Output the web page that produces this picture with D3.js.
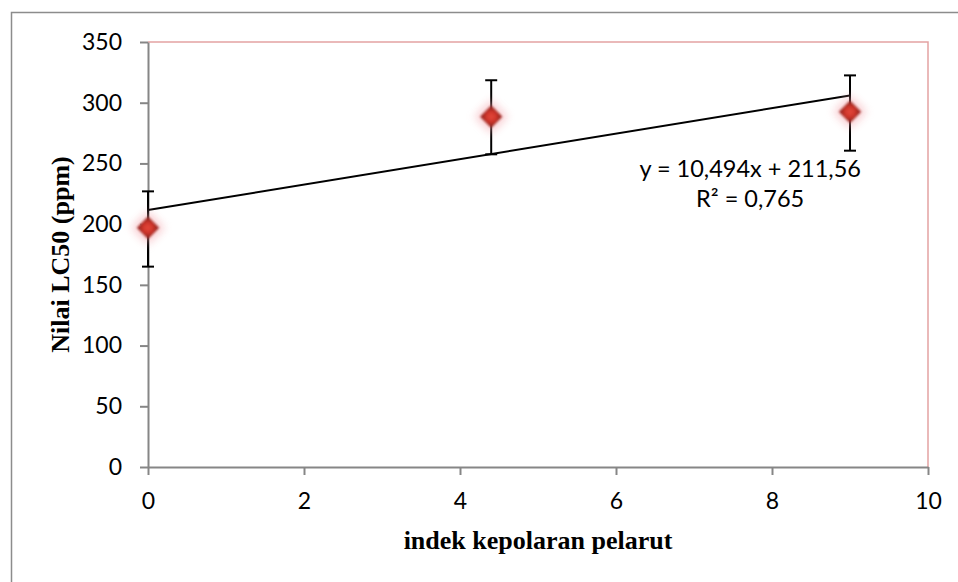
<!DOCTYPE html>
<html>
<head>
<meta charset="utf-8">
<script src="https://cdn.jsdelivr.net/npm/d3@7"></script>
<style>
  body { margin: 0; background: #fff; }
  .tick text { font-family: Lato, "Open Sans", sans-serif; font-size: 23px; fill: #000; }
  .aText { font-family: "Liberation Serif", "Times New Roman", serif; font-weight: bold; font-size: 26px; fill: #000; }
  .eqText { font-family: Lato, "Open Sans", sans-serif; font-size: 23.5px; fill: #000; }
</style>
</head>
<body>
<div id="scatter"></div>
<script>
// data
var polarity = [0, 4.4, 9.0];
var lc50 = [197, 288.5, 292.5];
var errPlus = [30, 30, 30];
var errMinus = [32, 31, 32];
var xTicks = [0, 2, 4, 6, 8, 10];
var yTicks = [0, 50, 100, 150, 200, 250, 300, 350];
var trendSlope = 10.494;
var trendIntercept = 211.56;
var trendRange = [0, 9];
var eqLines = ["y = 10,494x + 211,56", "R\u00b2 = 0,765"];

var svgWidth = 958, svgHeight = 582;
var chartMargin = { top: 42, bottom: 115, right: 30, left: 148 };
var chartWidth = svgWidth - chartMargin.left - chartMargin.right;
var chartHeight = svgHeight - chartMargin.top - chartMargin.bottom;

var svg = d3.select("#scatter")
            .append("svg")
            .attr("width", svgWidth)
            .attr("height", svgHeight);

// outer chart border (right/bottom edges fall outside the picture)
svg.append("rect")
   .attr("x", 11.5).attr("y", 12.5)
   .attr("width", 1000).attr("height", 700)
   .attr("fill", "none")
   .attr("stroke", "#8c8c8c")
   .attr("stroke-width", 1.5);

var defs = svg.append("defs");
var grad = defs.append("radialGradient").attr("id", "mk");
grad.append("stop").attr("offset", "0%").attr("stop-color", "#e4483c");
grad.append("stop").attr("offset", "70%").attr("stop-color", "#cc3329");
grad.append("stop").attr("offset", "100%").attr("stop-color", "#a02a24");
defs.append("filter").attr("id", "glow")
    .attr("x", "-60%").attr("y", "-60%").attr("width", "220%").attr("height", "220%")
    .append("feGaussianBlur").attr("stdDeviation", 4);
defs.append("filter").attr("id", "soft")
    .append("feGaussianBlur").attr("stdDeviation", 1);

var chartGroup = svg.append("g")
                    .attr("transform", `translate(${chartMargin.left}, ${chartMargin.top})`);

var xScale = d3.scaleLinear().domain([0, 10]).range([0, chartWidth]);
var yScale = d3.scaleLinear().domain([0, 350]).range([chartHeight, 0]);

// pink plot-area border (top and right)
chartGroup.append("path")
          .attr("d", `M0,0H${chartWidth}V${chartHeight}`)
          .attr("fill", "none")
          .attr("stroke", "#e3a2a2")
          .attr("stroke-width", 1.5);

// axes
var xAxis = d3.axisBottom(xScale).tickValues(xTicks).tickSize(8).tickPadding(18).tickSizeOuter(0);
var yAxis = d3.axisLeft(yScale).tickValues(yTicks).tickSize(8).tickPadding(18).tickSizeOuter(0);

var gx = chartGroup.append("g")
                   .attr("transform", `translate(0, ${chartHeight})`)
                   .call(xAxis);
var gy = chartGroup.append("g").call(yAxis);
[gx, gy].forEach(function(g) {
    g.select(".domain").attr("stroke", "#868686").attr("stroke-width", 2);
    g.selectAll(".tick line").attr("stroke", "#868686").attr("stroke-width", 2);
});

// trend line
chartGroup.append("line")
          .attr("x1", xScale(trendRange[0]))
          .attr("y1", yScale(trendSlope * trendRange[0] + trendIntercept))
          .attr("x2", xScale(trendRange[1]))
          .attr("y2", yScale(trendSlope * trendRange[1] + trendIntercept))
          .attr("stroke", "#000")
          .attr("stroke-width", 2);

// error bars
var errGroup = chartGroup.selectAll(".err")
                         .data(polarity)
                         .enter()
                         .append("g")
                         .attr("class", "err")
                         .attr("stroke", "#000")
                         .attr("stroke-width", 2);
errGroup.append("line")
        .attr("x1", d => xScale(d)).attr("x2", d => xScale(d))
        .attr("y1", (d, i) => yScale(lc50[i] + errPlus[i]))
        .attr("y2", (d, i) => yScale(lc50[i] - errMinus[i]));
errGroup.append("line")
        .attr("x1", d => xScale(d) - 6).attr("x2", d => xScale(d) + 6)
        .attr("y1", (d, i) => yScale(lc50[i] + errPlus[i]))
        .attr("y2", (d, i) => yScale(lc50[i] + errPlus[i]));
errGroup.append("line")
        .attr("x1", d => xScale(d) - 6).attr("x2", d => xScale(d) + 6)
        .attr("y1", (d, i) => yScale(lc50[i] - errMinus[i]))
        .attr("y2", (d, i) => yScale(lc50[i] - errMinus[i]));

// markers: soft pink halo + red diamond
var diamond = d3.symbol().type(d3.symbolSquare);
chartGroup.selectAll(".halo")
          .data(polarity)
          .enter()
          .append("path")
          .attr("class", "halo")
          .attr("d", diamond.size(560)())
          .attr("transform", (d, i) => `translate(${xScale(d)}, ${yScale(lc50[i])}) rotate(45)`)
          .attr("fill", "#f4a4ac")
          .attr("opacity", 0.55)
          .attr("filter", "url(#glow)");
chartGroup.selectAll(".mark")
          .data(polarity)
          .enter()
          .append("path")
          .attr("class", "mark")
          .attr("d", diamond.size(250)())
          .attr("transform", (d, i) => `translate(${xScale(d)}, ${yScale(lc50[i])}) rotate(45)`)
          .attr("fill", "url(#mk)")
          .attr("filter", "url(#soft)");

// equation label
chartGroup.selectAll(".eqText")
          .data(eqLines)
          .enter()
          .append("text")
          .attr("class", "eqText")
          .attr("text-anchor", "middle")
          .attr("x", xScale(7.72))
          .attr("y", (d, i) => 135 + i * 30)
          .text(d => d);

// axis labels
chartGroup.append("text")
          .attr("transform", "rotate(-90)")
          .attr("x", -chartHeight / 2)
          .attr("y", 69 - chartMargin.left)
          .attr("text-anchor", "middle")
          .attr("class", "aText")
          .text("Nilai LC50 (ppm)");

chartGroup.append("text")
          .attr("x", chartWidth / 2)
          .attr("y", chartHeight + 82)
          .attr("text-anchor", "middle")
          .attr("class", "aText")
          .text("indek kepolaran pelarut");
</script>
</body>
</html>
